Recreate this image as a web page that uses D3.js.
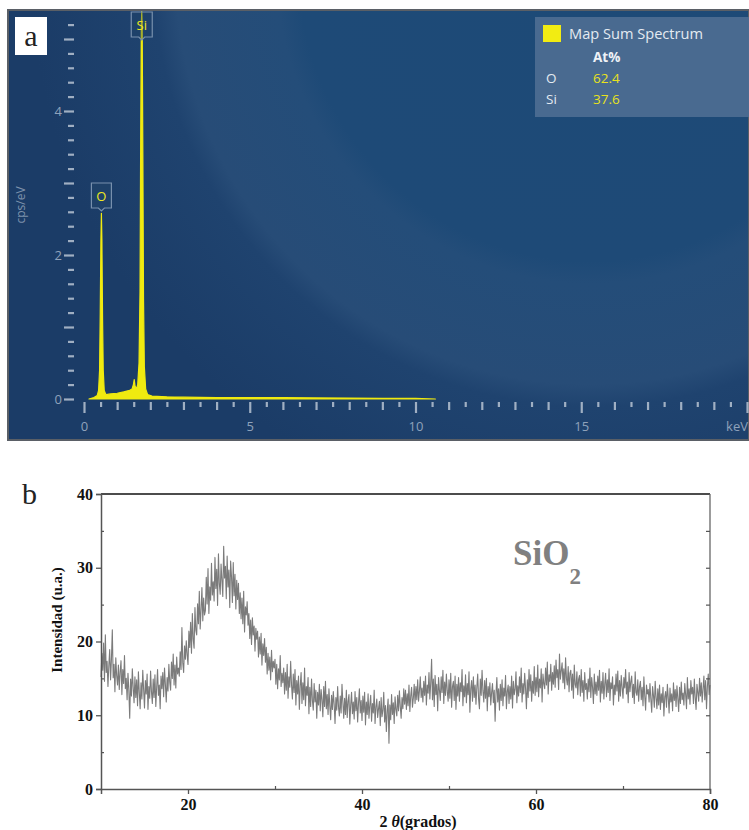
<!DOCTYPE html>
<html>
<head>
<meta charset="utf-8">
<script src="https://cdn.jsdelivr.net/npm/d3@7/dist/d3.min.js"></script>
<style>
body{margin:0;background:#fff;}
svg{display:block;}
</style>
</head>
<body>
<script>
// ---------- Panel a: EDS spectrum ----------
const edsEnergy = [0.15,0.3,0.4,0.44,0.47,0.49,0.51,0.525,0.54,0.56,0.58,0.61,0.66,0.8,1.0,1.2,1.38,1.45,1.49,1.515,1.54,1.58,1.62,1.66,1.69,1.71,1.73,1.742,1.755,1.775,1.795,1.82,1.86,1.92,2.05,2.5,3,4,5,6,7,8,9,10,10.6];
const edsCps    = [0,0.02,0.05,0.12,0.4,1.2,2.2,2.58,2.2,1.1,0.4,0.12,0.06,0.07,0.08,0.1,0.12,0.14,0.2,0.27,0.18,0.14,0.2,0.5,1.5,3.6,5.2,5.38,5.2,3.4,1.4,0.45,0.14,0.06,0.04,0.03,0.025,0.02,0.02,0.018,0.015,0.012,0.01,0.008,0];
const edsYLabels = [0,2,4];
const edsXLabels = [0,5,10,15,20];
const legendElements = ["O","Si"];
const legendAtPct = ["62.4","37.6"];
const peakLabels = [{el:"O", e:0.525, c:2.58},{el:"Si", e:1.742, c:5.38}];

// ---------- Panel b: XRD pattern ----------
const xrdStart = 10, xrdStep = 0.1;
const xrdIntensity = [
15.2,18.4,16.1,19.8,14.6,20.9,15.8,17.3,13.9,16.7,
18.9,14.8,17.6,21.6,15.1,16.9,13.2,17.8,15.4,14.1,
16.8,13.5,15.9,17.4,12.8,16.2,14.3,18.1,13.6,15.0,
12.1,15.7,13.4,9.6,14.9,12.6,16.3,13.8,11.7,15.2,
12.4,14.8,11.3,15.9,13.1,10.9,14.4,12.2,16.1,13.5,
11.0,14.7,12.9,15.6,10.8,13.9,12.3,16.0,13.2,11.6,
14.9,12.4,15.5,11.2,13.8,16.2,12.7,14.1,10.9,15.3,
13.6,15.8,12.5,16.4,14.2,11.8,15.1,13.3,16.9,14.5,
13.4,17.2,15.0,18.3,14.1,16.8,13.7,17.9,15.6,16.4,
15.3,18.6,16.2,21.9,17.1,15.8,19.4,17.6,20.1,18.2,
16.9,21.4,19.2,22.6,18.4,23.8,20.3,19.1,24.6,21.5,
20.9,25.1,22.4,26.8,21.7,24.3,27.3,22.8,25.9,23.6,
24.2,28.7,25.1,29.9,23.8,27.4,25.6,30.6,26.3,28.1,
25.5,31.4,27.2,29.8,24.9,31.9,27.9,26.4,30.5,28.3,
26.1,32.9,28.6,30.2,25.8,31.6,27.4,29.7,24.6,30.9,
28.8,25.3,30.7,26.2,29.1,24.4,28.3,25.7,27.9,23.8,
26.6,23.1,25.9,22.4,26.8,21.3,24.7,23.6,25.4,22.2,
23.8,20.4,22.9,19.6,23.2,20.9,22.1,18.7,21.8,20.3,
21.4,17.9,20.6,18.3,21.1,16.8,19.7,18.1,20.4,17.2,
19.2,15.6,18.4,16.1,17.9,14.8,18.8,15.9,17.3,16.4,
17.6,14.2,16.9,13.6,16.3,14.8,18.1,13.9,15.7,14.4,
16.4,12.9,15.8,13.4,16.9,12.3,15.2,13.8,17.3,14.1,
12.2,15.6,13.1,16.2,11.4,14.7,12.9,15.3,10.8,14.0,
15.8,11.6,14.4,12.1,16.4,11.3,13.9,12.7,15.1,10.2,
13.8,11.2,14.9,12.0,10.7,14.3,11.8,13.4,9.6,13.1,
11.4,14.2,10.6,13.5,12.1,9.8,13.9,11.2,14.6,10.9,
12.8,10.1,13.6,11.3,9.4,12.7,10.8,13.2,11.5,8.9,
12.4,10.7,13.9,11.1,9.9,12.6,10.3,14.2,11.8,9.6,
12.3,10.1,13.4,9.7,11.9,12.8,8.8,11.4,13.1,10.2,
11.8,9.5,13.2,10.6,12.4,9.1,11.7,13.6,10.3,12.0,
9.3,12.6,10.4,13.1,8.7,11.8,10.1,12.9,9.6,11.4,
12.7,9.2,11.6,10.3,13.4,8.9,11.1,12.2,9.7,10.9,
11.9,8.6,12.4,9.8,10.7,13.1,9.1,11.3,7.8,10.6,
12.2,6.2,11.4,9.4,12.8,10.1,11.7,8.9,12.5,10.8,
9.9,12.7,10.6,13.3,11.2,9.6,12.4,10.9,13.6,11.5,
13.4,10.8,12.9,11.3,14.1,10.5,12.6,13.8,11.1,12.3,
14.2,11.6,13.9,12.1,14.8,11.9,13.3,15.2,12.4,13.7,
11.8,14.6,12.7,15.3,11.4,14.1,13.0,15.8,12.2,14.4,
17.6,12.1,14.9,11.2,15.4,12.8,14.2,10.6,15.1,13.4,
12.0,15.2,13.1,16.1,11.6,14.5,12.7,15.6,13.3,11.9,
14.8,12.3,15.7,11.1,13.9,14.6,12.0,15.3,10.8,14.2,
12.6,15.1,11.9,14.4,13.2,16.2,11.3,14.0,12.5,15.5,
11.7,14.3,12.8,15.9,10.4,13.6,14.7,11.9,15.2,12.4,
14.1,11.5,13.8,15.6,12.2,10.9,14.9,12.7,16.1,13.3,
11.8,14.7,12.3,15.0,10.6,13.9,12.5,14.4,11.4,13.1,
14.3,11.7,13.4,9.2,12.9,15.1,11.8,13.6,10.7,14.2,
12.0,14.8,11.3,13.7,12.6,15.4,10.9,13.2,14.1,11.6,
13.9,12.2,15.3,11.0,14.6,12.8,13.5,15.9,11.7,14.0,
12.6,15.2,13.1,16.4,11.8,14.3,12.9,15.7,13.6,10.9,
14.8,12.4,16.2,13.3,15.5,11.9,14.6,13.0,16.6,12.7,
15.1,13.2,16.8,12.5,14.9,13.7,16.3,11.8,15.6,14.3,
13.6,16.4,14.1,17.2,12.9,15.5,14.6,16.9,13.4,15.8,
14.2,16.7,13.8,17.5,15.1,16.2,13.5,18.3,14.9,16.0,
17.1,14.4,16.3,13.6,17.8,15.0,14.1,16.6,13.2,15.7,
16.1,13.4,15.6,12.3,16.8,14.2,13.7,15.9,12.8,14.9,
15.4,12.6,16.2,13.1,14.7,11.9,15.8,13.5,14.3,12.2,
14.9,13.2,16.4,12.4,15.1,13.8,11.6,15.6,12.9,14.5,
12.7,15.3,13.4,16.1,11.8,14.6,13.0,15.8,12.2,14.2,
15.7,12.5,14.8,13.1,16.3,12.0,14.4,13.6,15.2,11.4,
14.1,12.8,15.6,13.3,16.0,11.9,14.7,12.6,15.4,13.8,
12.3,15.1,13.7,16.2,12.9,14.5,11.7,15.8,13.2,14.6,
15.3,12.4,14.2,11.6,15.9,13.1,12.7,14.8,11.9,13.9,
14.6,12.1,13.8,11.3,15.2,12.6,10.7,14.1,12.9,13.5,
11.8,14.3,12.2,10.4,13.9,12.7,11.1,14.6,12.4,10.9,
13.6,11.4,14.1,10.8,12.9,11.7,13.8,9.9,12.5,13.2,
11.1,14.2,12.4,10.3,13.7,11.8,12.9,10.6,14.4,12.0,
13.5,11.2,14.0,12.3,10.5,13.8,11.6,14.5,12.1,13.0,
11.4,14.3,12.8,10.9,15.1,12.2,13.6,11.5,14.7,12.9,
13.8,11.6,14.9,12.4,10.8,14.2,13.1,11.9,15.0,12.6,
14.4,11.8,13.6,15.3,12.1,14.7,10.9,13.9,15.6,12.8,
14.1];
const xrdXTicks = [20,40,60,80];
const xrdYTicks = [0,10,20,30,40];

const W = 749, H = 830;
const svg = d3.select("body").append("svg").attr("width", W).attr("height", H);
const defs = svg.append("defs");

// ================= PANEL A =================
const sansA = "'Open Sans','Noto Sans',sans-serif";
const rg = defs.append("radialGradient").attr("id","bgA")
  .attr("gradientUnits","userSpaceOnUse").attr("cx",590).attr("cy",-30).attr("r",560);
[[0,"#1d4a77"],[0.52,"#1e4a77"],[0.56,"#244d79"],[0.74,"#274c77"],[0.78,"#1f436f"],[1,"#1b3c67"]]
  .forEach(([o,c]) => rg.append("stop").attr("offset",o).attr("stop-color",c));

const gA = svg.append("g");
gA.append("rect").attr("x",8).attr("y",10).attr("width",W-8).attr("height",430)
  .attr("fill","url(#bgA)").attr("stroke","#5a5f66").attr("stroke-width",2);

const xA = d3.scaleLinear().domain([0,20]).range([84,747]);
const yA = d3.scaleLinear().domain([0,5]).range([399,39]);

// y ticks every 0.2
const yTickVals = d3.range(0,27).map(i => +(i*0.2).toFixed(1));
const yAxisA = d3.axisLeft(yA).tickValues(yTickVals).tickSize(0).tickFormat(d => edsYLabels.includes(d) ? d : "");
const gyA = gA.append("g").attr("transform","translate(76,0)").call(yAxisA);
gyA.select(".domain").remove();
gyA.selectAll(".tick line")
  .attr("x1", d => Math.abs(d-Math.round(d))<1e-6 ? -12 : -8)
  .attr("x2", -2)
  .attr("stroke","#b7c3d2").attr("stroke-width",2.2).attr("stroke-opacity",0.85);
gyA.selectAll(".tick text").attr("x",-14).attr("fill","#8fa2bb").attr("font-size",13).attr("font-family",sansA);

// x ticks every 0.5
const xTickVals = d3.range(0,41).map(i => i*0.5);
const xAxisA = d3.axisBottom(xA).tickValues(xTickVals).tickSize(0)
  .tickFormat(d => (edsXLabels.includes(d) && d !== 20) ? d : "");
const gxA = gA.append("g").attr("transform","translate(0,402)").call(xAxisA);
gxA.select(".domain").remove();
gxA.selectAll(".tick line")
  .attr("y1",0)
  .attr("y2", d => (d%5===0) ? 11 : (Number.isInteger(d) ? 8 : 5))
  .attr("stroke","#b7c3d2").attr("stroke-width",2.2).attr("stroke-opacity",0.85);
gxA.selectAll(".tick text").attr("y",20).attr("fill","#8fa2bb").attr("font-size",13).attr("font-family",sansA);
gA.append("text").attr("x",748).attr("y",431).attr("text-anchor","end")
  .attr("fill","#8fa2bb").attr("font-size",13).attr("font-family",sansA).text("keV");

gA.append("text").attr("transform","translate(25,205) rotate(-90)").attr("text-anchor","middle")
  .attr("fill","#7d91ab").attr("font-size",12).attr("font-family",sansA).text("cps/eV");

// spectrum
const edsData = edsEnergy.map((e,i)=>({e, c: edsCps[i]}));
gA.append("path").datum(edsData)
  .attr("d", d3.area().x(d=>xA(d.e)).y0(yA(0)).y1(d=>yA(d.c)))
  .attr("fill","#f0ea10").attr("stroke","#f0ea10").attr("stroke-width",1.2).attr("stroke-linejoin","round");

// peak label boxes
peakLabels.forEach(p => {
  const cx = xA(p.e);
  const top = p.el==="Si" ? 12 : 183;
  const w = p.el==="Si" ? 21 : 20, h = 25;
  const g = gA.append("g");
  g.append("path")
    .attr("d", `M${cx-w/2},${top} h${w} v${h} h${-w/2+3} l-3,3 l-3,-3 h${-w/2+3} Z`)
    .attr("fill", p.el==="Si" ? "rgba(30,62,100,0.35)" : "#1f4169")
    .attr("stroke","#7890ad").attr("stroke-width",1.2);
  g.append("text").attr("x",cx).attr("y",top+h/2+5).attr("text-anchor","middle")
    .attr("fill","#eee81e").attr("font-size",13).attr("font-family",sansA).text(p.el);
});

// legend
const gL = gA.append("g");
gL.append("rect").attr("x",535).attr("y",17).attr("width",214).attr("height",100)
  .attr("fill","#4d6d93").attr("fill-opacity",0.92);
gL.append("rect").attr("x",543).attr("y",25).attr("width",18).attr("height",17).attr("fill","#f2ec12");
gL.append("text").attr("x",569).attr("y",39).attr("fill","#e4eaf2").attr("font-size",14.6).attr("font-family",sansA).text("Map Sum Spectrum");
gL.append("text").attr("x",593).attr("y",62).attr("fill","#eef2f7").attr("font-size",13.5).attr("font-weight","bold").attr("font-family",sansA).text("At%");
legendElements.forEach((el,i) => {
  gL.append("text").attr("x",546).attr("y",83+i*21).attr("fill","#e4eaf2").attr("font-size",13.5).attr("font-family",sansA).text(el);
  gL.append("text").attr("x",593).attr("y",83+i*21).attr("fill","#e8e21c").attr("font-size",13.5).attr("font-family",sansA).text(legendAtPct[i]);
});

// "a" label
gA.append("rect").attr("x",15).attr("y",17).attr("width",32).attr("height",38).attr("fill","#fff");
gA.append("text").attr("x",31).attr("y",46).attr("text-anchor","middle").attr("font-size",30)
  .attr("font-family","'Liberation Serif','DejaVu Serif',serif").attr("fill","#222").text("a");

// ================= PANEL B =================
const serif = "'Liberation Serif','Times New Roman',serif";
const gB = svg.append("g");
const xB = d3.scaleLinear().domain([10,80]).range([101,710]);
const yB = d3.scaleLinear().domain([0,40]).range([789,494]);

const xrdData = xrdIntensity.map((v,i)=>({a: xrdStart + i*xrdStep, v}));
gB.append("path").datum(xrdData)
  .attr("d", d3.line().x(d=>xB(d.a)).y(d=>yB(d.v)))
  .attr("fill","none").attr("stroke","#7b7b7b").attr("stroke-width",1.1).attr("stroke-linejoin","round");

// frame
gB.append("line").attr("x1",101).attr("x2",710).attr("y1",494).attr("y2",494).attr("stroke","#111").attr("stroke-width",1.3);
gB.append("line").attr("x1",710).attr("x2",710).attr("y1",494).attr("y2",789).attr("stroke","#666").attr("stroke-width",1.3);

// left axis
const gyB = gB.append("g").attr("transform","translate(101,0)")
  .call(d3.axisLeft(yB).tickValues(xrdYTicks).tickSize(5).tickPadding(3));
gyB.select(".domain").attr("stroke","#555").attr("stroke-width",1.5);
gyB.selectAll(".tick line").attr("stroke","#555").attr("stroke-width",1.3);
gyB.selectAll(".tick text").attr("font-family",serif).attr("font-weight","bold").attr("font-size",16).attr("fill","#111");
gB.append("g").attr("transform","translate(101,0)")
  .call(d3.axisRight(yB).tickValues([5,15,25,35]).tickSize(3).tickFormat(""))
  .call(g=>g.select(".domain").remove())
  .selectAll("line").attr("stroke","#555").attr("stroke-width",1.2);

// bottom axis
const gxB = gB.append("g").attr("transform","translate(0,789)")
  .call(d3.axisBottom(xB).tickValues(xrdXTicks).tickSize(5).tickPadding(5));
gxB.select(".domain").attr("stroke","#555").attr("stroke-width",1.5);
gxB.selectAll(".tick line").attr("stroke","#555").attr("stroke-width",1.3);
gxB.selectAll(".tick text").attr("font-family",serif).attr("font-weight","bold").attr("font-size",16).attr("fill","#111");
gB.append("g").attr("transform","translate(0,789)")
  .call(d3.axisTop(xB).tickValues([30,50,70]).tickSize(3).tickFormat(""))
  .call(g=>g.select(".domain").remove())
  .selectAll("line").attr("stroke","#555").attr("stroke-width",1.2);

// right axis inward ticks
gB.append("g").attr("transform","translate(710,0)")
  .call(d3.axisLeft(yB).tickValues([5,10,15,20,25,30,35]).tickSize(4).tickFormat(""))
  .call(g=>g.select(".domain").remove())
  .selectAll("line").attr("stroke","#555").attr("stroke-width",1.2);

// axis titles
gB.append("text").attr("transform","translate(62,620) rotate(-90)").attr("text-anchor","middle")
  .attr("font-family",serif).attr("font-weight","bold").attr("font-size",15).attr("fill","#111")
  .text("Intensidad (u.a.)");
const xt = gB.append("text").attr("x",418).attr("y",827).attr("text-anchor","middle")
  .attr("font-family",serif).attr("font-weight","bold").attr("font-size",16).attr("fill","#111");
xt.append("tspan").text("2 ");
xt.append("tspan").attr("font-style","italic").text("θ");
xt.append("tspan").text("(grados)");

// SiO2 annotation
const st = gB.append("text").attr("x",513).attr("y",565)
  .attr("font-family",serif).attr("font-weight","bold").attr("font-size",35).attr("fill","#808080");
st.append("tspan").text("SiO");
st.append("tspan").attr("font-size",23).attr("dy",19).text("2");

// "b" label
gB.append("text").attr("x",22).attr("y",504).attr("font-family",serif).attr("font-size",30).attr("fill","#222").text("b");
</script>
</body>
</html>
